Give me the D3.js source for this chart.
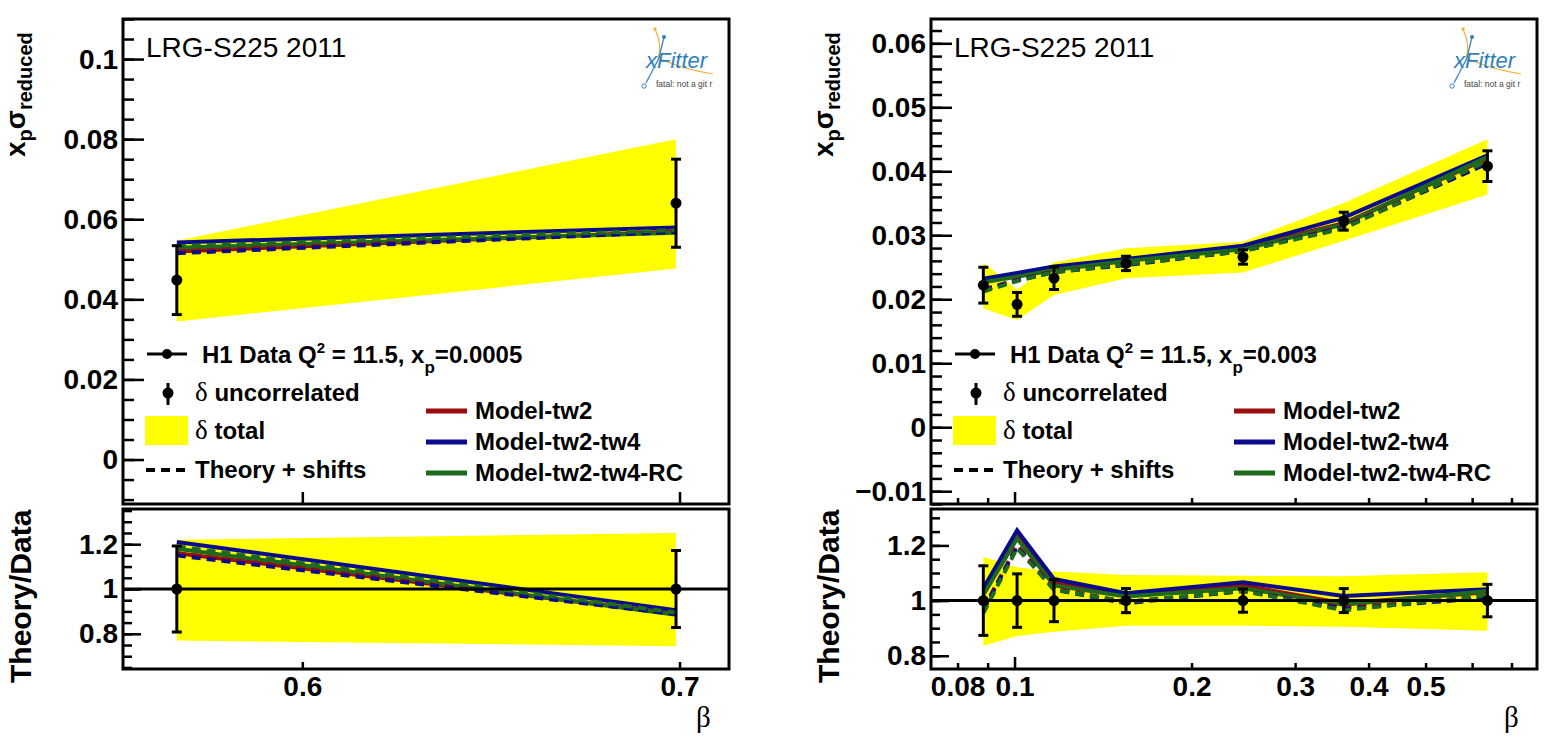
<!DOCTYPE html>
<html>
<head>
<meta charset="utf-8">
<script src="https://cdn.jsdelivr.net/npm/d3@7"></script>
<style>
body { margin: 0; background: #fff; }
svg { display: block; font-family: "Liberation Sans", Arial, sans-serif; }
.axis path.domain { display: none; }
.axis line { stroke: #000; stroke-width: 2.5px; }
.axis text { font-size: 28px; font-weight: bold; fill: #000; font-family: "Liberation Sans", Arial, sans-serif; }
</style>
</head>
<body>
<svg id="fig" width="1550" height="744"></svg>
<script>
// ---- left panel: x_p = 0.0005 ----
var leftBeta = [0.570, 0.699];
var leftData = [0.0448, 0.0640];
var leftUnc = [0.0086, 0.0110];
var leftTotLo = [0.77, 0.745];      // total uncertainty band, as theory/data
var leftTotHi = [1.22, 1.25];
var leftTw2 = [1.16, 0.89];         // theory/data per model
var leftTw4 = [1.21, 0.905];
var leftRC = [1.18, 0.885];
var leftTw2Shift = [1.16, 0.89];    // theory + shifts
var leftTw4Shift = [1.15, 0.888];
var leftRCShift = [1.19, 0.895];
var leftYTicks = [0, 0.02, 0.04, 0.06, 0.08, 0.1];
var leftXTicks = [0.6, 0.7];

// ---- right panel: x_p = 0.003 ----
var rightBeta = [0.0885, 0.101, 0.1167, 0.1547, 0.2446, 0.363, 0.637];
var rightData = [0.0222, 0.0192, 0.0233, 0.0256, 0.0266, 0.0322, 0.0408];
var rightUnc = [0.0028, 0.00186, 0.00178, 0.00112, 0.00112, 0.0014, 0.0024];
var rightTotLo = [0.836, 0.872, 0.887, 0.909, 0.909, 0.905, 0.891];
var rightTotHi = [1.158, 1.121, 1.105, 1.093, 1.09, 1.088, 1.103];
var rightTw2 = [1.03, 1.24, 1.065, 1.02, 1.055, 0.99, 1.03];
var rightTw4 = [1.045, 1.255, 1.078, 1.027, 1.066, 1.017, 1.041];
var rightRC = [1.02, 1.225, 1.055, 1.015, 1.045, 0.985, 1.035];
var rightTw2Shift = [0.97, 1.20, 1.045, 0.995, 1.035, 0.975, 1.012];
var rightTw4Shift = [0.965, 1.195, 1.04, 0.99, 1.035, 0.97, 1.01];
var rightRCShift = [0.955, 1.19, 1.04, 0.995, 1.035, 0.965, 1.02];
var rightYTicks = [-0.01, 0, 0.01, 0.02, 0.03, 0.04, 0.05, 0.06];
var rightXTicks = [0.08, 0.1, 0.2, 0.3, 0.4, 0.5];
var rightXMinor = [0.08, 0.09, 0.2, 0.3, 0.4, 0.5, 0.6, 0.7];

var ratioTicks = [0.8, 1, 1.2];
var modelNames = ['Model-tw2', 'Model-tw2-tw4', 'Model-tw2-tw4-RC'];
var modelColors = ['#9a0d0d', '#0b0b8e', '#1c6b1c'];

var svg = d3.select('#fig');
var frameW = 606;
var topBox = {t: 19, b: 504};
var ratBox = {t: 509, b: 669};
var fmt = d3.format('~g');

function minorTicks(dom, step) {
    var out = [];
    var i0 = Math.ceil(dom[0] / step), i1 = Math.floor(dom[1] / step);
    for (var i = i0; i <= i1; i++) out.push(+(i * step).toFixed(6));
    return out;
}

function drawPanel(p) {
    var g = svg.append('g');
    var x = d3.scaleLog().domain(p.xDomain).range([p.x0, p.x0 + frameW]);
    var yTop = d3.scaleLinear().domain(p.yDomain).range([topBox.b, topBox.t]);
    var yRat = d3.scaleLinear().domain(p.rDomain).range([ratBox.b, ratBox.t]);

    var clipTop = 'clipT' + p.id, clipRat = 'clipR' + p.id;
    var defs = g.append('defs');
    defs.append('clipPath').attr('id', clipTop).append('rect')
        .attr('x', p.x0).attr('y', topBox.t).attr('width', frameW).attr('height', topBox.b - topBox.t);
    defs.append('clipPath').attr('id', clipRat).append('rect')
        .attr('x', p.x0).attr('y', ratBox.t).attr('width', frameW).attr('height', ratBox.b - ratBox.t);

    var models = [
        {solid: p.tw2, shift: p.tw2s, color: modelColors[0]},
        {solid: p.tw4, shift: p.tw4s, color: modelColors[1]},
        {solid: p.rc, shift: p.rcs, color: modelColors[2]}
    ];
    var idx = p.beta.map(function(b, i) { return i; });

    // ---------- upper pad ----------
    var up = g.append('g').attr('clip-path', 'url(#' + clipTop + ')');
    up.append('path').datum(idx)
        .attr('fill', '#ffff00')
        .attr('d', d3.area()
            .x(function(i) { return x(p.beta[i]); })
            .y0(function(i) { return yTop(p.data[i] * p.lo[i]); })
            .y1(function(i) { return yTop(p.data[i] * p.hi[i]); }));
    models.forEach(function(m) {
        up.append('path').datum(idx)
            .attr('fill', 'none').attr('stroke', m.color).attr('stroke-width', 4)
            .attr('d', d3.line()
                .x(function(i) { return x(p.beta[i]); })
                .y(function(i) { return yTop(p.data[i] * m.solid[i]); }));
    });
    models.forEach(function(m) {
        up.append('path').datum(idx)
            .attr('fill', 'none').attr('stroke', m.color).attr('stroke-width', 4)
            .attr('stroke-dasharray', '9,6')
            .attr('d', d3.line()
                .x(function(i) { return x(p.beta[i]); })
                .y(function(i) { return yTop(p.data[i] * m.shift[i]); }));
    });
    drawPoints(up, idx, function(i) { return x(p.beta[i]); },
        function(i) { return yTop(p.data[i]); },
        function(i) { return yTop(p.data[i] + p.unc[i]); },
        function(i) { return yTop(p.data[i] - p.unc[i]); });

    // ---------- ratio pad ----------
    var lo = g.append('g').attr('clip-path', 'url(#' + clipRat + ')');
    lo.append('path').datum(idx)
        .attr('fill', '#ffff00')
        .attr('d', d3.area()
            .x(function(i) { return x(p.beta[i]); })
            .y0(function(i) { return yRat(p.lo[i]); })
            .y1(function(i) { return yRat(p.hi[i]); }));
    models.forEach(function(m) {
        lo.append('path').datum(idx)
            .attr('fill', 'none').attr('stroke', m.color).attr('stroke-width', 4)
            .attr('d', d3.line()
                .x(function(i) { return x(p.beta[i]); })
                .y(function(i) { return yRat(m.solid[i]); }));
    });
    models.forEach(function(m) {
        lo.append('path').datum(idx)
            .attr('fill', 'none').attr('stroke', m.color).attr('stroke-width', 4)
            .attr('stroke-dasharray', '9,6')
            .attr('d', d3.line()
                .x(function(i) { return x(p.beta[i]); })
                .y(function(i) { return yRat(m.shift[i]); }));
    });
    lo.append('line')
        .attr('x1', p.x0).attr('x2', p.x0 + frameW)
        .attr('y1', yRat(1)).attr('y2', yRat(1))
        .attr('stroke', '#000').attr('stroke-width', 3);
    drawPoints(lo, idx, function(i) { return x(p.beta[i]); },
        function(i) { return yRat(1); },
        function(i) { return yRat(1 + p.unc[i] / p.data[i]); },
        function(i) { return yRat(1 - p.unc[i] / p.data[i]); });

    // ---------- axes ----------
    g.append('g').attr('class', 'axis').attr('transform', 'translate(' + p.x0 + ',0)')
        .call(d3.axisLeft(yTop).tickValues(minorTicks(p.yDomain, p.yMinor)).tickSize(-11).tickFormat(''));
    g.append('g').attr('class', 'axis').attr('transform', 'translate(' + p.x0 + ',0)')
        .call(d3.axisLeft(yTop).tickValues(p.yTicks).tickSize(-21).tickPadding(5).tickFormat(fmt));
    g.append('g').attr('class', 'axis').attr('transform', 'translate(' + p.x0 + ',0)')
        .call(d3.axisLeft(yRat).tickValues(minorTicks(p.rDomain, 0.05)).tickSize(-9).tickFormat(''));
    g.append('g').attr('class', 'axis').attr('transform', 'translate(' + p.x0 + ',0)')
        .call(d3.axisLeft(yRat).tickValues(ratioTicks).tickSize(-18).tickPadding(5).tickFormat(fmt));

    // x ticks of upper pad (no labels)
    g.append('g').attr('class', 'axis').attr('transform', 'translate(0,' + topBox.b + ')')
        .call(d3.axisBottom(x).tickValues(p.xMinor).tickSize(-p.topShort).tickFormat(''));
    g.append('g').attr('class', 'axis').attr('transform', 'translate(0,' + topBox.b + ')')
        .call(d3.axisBottom(x).tickValues(p.xMajor).tickSize(-12).tickFormat(''));
    // x ticks of ratio pad
    g.append('g').attr('class', 'axis').attr('transform', 'translate(0,' + ratBox.b + ')')
        .call(d3.axisBottom(x).tickValues(p.xMinor).tickSize(-p.ratShort).tickFormat(''));
    g.append('g').attr('class', 'axis').attr('transform', 'translate(0,' + ratBox.b + ')')
        .call(d3.axisBottom(x).tickValues(p.xMajor).tickSize(-p.ratLong).tickFormat(''));
    g.append('g').attr('class', 'axis').attr('transform', 'translate(0,' + ratBox.b + ')')
        .call(d3.axisBottom(x).tickValues(p.xLabels).tickSize(0).tickPadding(7).tickFormat(fmt));

    // frames
    [topBox, ratBox].forEach(function(b) {
        g.append('rect').attr('x', p.x0).attr('y', b.t)
            .attr('width', frameW).attr('height', b.b - b.t)
            .attr('fill', 'none').attr('stroke', '#000').attr('stroke-width', 3);
    });

    // titles
    var yt = g.append('text').attr('transform', 'translate(' + (p.x0 - 98) + ',157) rotate(-90)')
        .attr('font-weight', 'bold').attr('font-size', 28);
    yt.append('tspan').text('x');
    yt.append('tspan').attr('font-size', 20).attr('dy', 7).text('p');
    yt.append('tspan').attr('dy', -7).text('σ');
    yt.append('tspan').attr('font-size', 20).attr('dy', 7).text('reduced');

    g.append('text').attr('transform', 'translate(' + (p.x0 - 92) + ',683) rotate(-90)')
        .attr('font-weight', 'bold').attr('font-size', 30).text('Theory/Data');

    g.append('text').attr('x', p.x0 + 573).attr('y', 727)
        .attr('font-family', '"Liberation Serif", serif').attr('font-size', 29).text('β');

    g.append('text').attr('x', p.x0 + 23).attr('y', 57)
        .attr('font-size', 28).text('LRG-S225 2011');

    drawLogo(g, p.x0 + 522);
    drawLegend(g, p.x0, p.xpLabel);
}

function drawPoints(sel, idx, fx, fy, fhi, flo) {
    var pts = sel.append('g');
    idx.forEach(function(i) {
        var cx = fx(i);
        pts.append('line').attr('x1', cx).attr('x2', cx).attr('y1', fhi(i)).attr('y2', flo(i))
            .attr('stroke', '#000').attr('stroke-width', 3);
        [fhi(i), flo(i)].forEach(function(yy) {
            pts.append('line').attr('x1', cx - 5).attr('x2', cx + 5).attr('y1', yy).attr('y2', yy)
                .attr('stroke', '#000').attr('stroke-width', 3);
        });
        pts.append('circle').attr('cx', cx).attr('cy', fy(i)).attr('r', 5.5).attr('fill', '#000');
    });
}

function drawLegend(g, x0, xpLabel) {
    var lg = g.append('g').attr('font-weight', 'bold').attr('font-size', 24);
    // data row
    lg.append('line').attr('x1', x0 + 24).attr('x2', x0 + 64).attr('y1', 354).attr('y2', 354)
        .attr('stroke', '#000').attr('stroke-width', 3);
    lg.append('circle').attr('cx', x0 + 44).attr('cy', 354).attr('r', 5).attr('fill', '#000');
    var t1 = lg.append('text').attr('x', x0 + 79).attr('y', 363);
    t1.append('tspan').text('H1 Data Q');
    t1.append('tspan').attr('font-size', 15).attr('dy', -10).text('2');
    t1.append('tspan').attr('dy', 10).text(' = 11.5, x');
    t1.append('tspan').attr('font-size', 17).attr('dy', 10).text('p');
    t1.append('tspan').attr('dy', -10).text('=' + xpLabel);

    // uncorrelated
    lg.append('line').attr('x1', x0 + 45).attr('x2', x0 + 45).attr('y1', 383).attr('y2', 405)
        .attr('stroke', '#000').attr('stroke-width', 3);
    lg.append('circle').attr('cx', x0 + 45).attr('cy', 393).attr('r', 5.5).attr('fill', '#000');
    var t2 = lg.append('text').attr('x', x0 + 72).attr('y', 401);
    t2.append('tspan').attr('font-family', '"Liberation Serif", serif').attr('font-weight', 'normal')
        .attr('font-size', 27).text('δ');
    t2.append('tspan').text(' uncorrelated');

    // total
    lg.append('rect').attr('x', x0 + 22).attr('y', 416).attr('width', 43).attr('height', 29)
        .attr('fill', '#ffff00');
    var t3 = lg.append('text').attr('x', x0 + 72).attr('y', 439);
    t3.append('tspan').attr('font-family', '"Liberation Serif", serif').attr('font-weight', 'normal')
        .attr('font-size', 27).text('δ');
    t3.append('tspan').text(' total');

    // theory + shifts
    lg.append('line').attr('x1', x0 + 23).attr('x2', x0 + 65).attr('y1', 470).attr('y2', 470)
        .attr('stroke', '#000').attr('stroke-width', 4).attr('stroke-dasharray', '9,6');
    lg.append('text').attr('x', x0 + 72).attr('y', 478).text('Theory + shifts');

    // models
    var rowY = [411, 442, 473];
    modelNames.forEach(function(name, k) {
        lg.append('line').attr('x1', x0 + 303).attr('x2', x0 + 344)
            .attr('y1', rowY[k]).attr('y2', rowY[k])
            .attr('stroke', modelColors[k]).attr('stroke-width', 5);
        lg.append('text').attr('x', x0 + 352).attr('y', rowY[k] + 8).text(name);
    });
}

function drawLogo(g, lx) {
    var lg = g.append('g');
    lg.append('path')
        .attr('d', 'M' + (lx + 10) + ',29 C' + (lx + 15) + ',40 ' + (lx + 16) + ',50 ' + (lx + 13) + ',58'
            + ' C' + (lx + 30) + ',66 ' + (lx + 50) + ',71 ' + (lx + 68) + ',74')
        .attr('fill', 'none').attr('stroke', '#f2b33d').attr('stroke-width', 1.2);
    lg.append('circle').attr('cx', lx + 10).attr('cy', 29).attr('r', 1.8).attr('fill', '#f2b33d');
    lg.append('path')
        .attr('d', 'M' + (lx + 19) + ',37 L' + (lx + 14) + ',58 L' + (lx + 1) + ',83')
        .attr('fill', 'none').attr('stroke', '#2f80c0').attr('stroke-width', 1.2);
    lg.append('circle').attr('cx', lx + 19).attr('cy', 37).attr('r', 2).attr('fill', '#2f80c0');
    lg.append('circle').attr('cx', lx - 1).attr('cy', 86).attr('r', 2.2)
        .attr('fill', 'none').attr('stroke', '#2f80c0').attr('stroke-width', 1);
    lg.append('text').attr('x', lx + 1).attr('y', 68)
        .attr('font-style', 'italic').attr('font-size', 22).attr('fill', '#2f80c0').text('xFitter');
    lg.append('text').attr('x', lx + 11).attr('y', 87)
        .attr('font-size', 8.5).attr('fill', '#444').text('fatal: not a git r');
}

drawPanel({
    id: 'L', x0: 123, xpLabel: '0.0005',
    beta: leftBeta, data: leftData, unc: leftUnc, lo: leftTotLo, hi: leftTotHi,
    tw2: leftTw2, tw4: leftTw4, rc: leftRC, tw2s: leftTw2Shift, tw4s: leftTw4Shift, rcs: leftRCShift,
    xDomain: [0.5576, 0.7143], yDomain: [-0.0111, 0.110], rDomain: [0.643, 1.357],
    yTicks: leftYTicks, yMinor: 0.005,
    xLabels: leftXTicks, xMajor: leftXTicks, xMinor: [], topShort: 6, ratShort: 6, ratLong: 7
});

drawPanel({
    id: 'R', x0: 931, xpLabel: '0.003',
    beta: rightBeta, data: rightData, unc: rightUnc, lo: rightTotLo, hi: rightTotHi,
    tw2: rightTw2, tw4: rightTw4, rc: rightRC, tw2s: rightTw2Shift, tw4s: rightTw4Shift, rcs: rightRCShift,
    xDomain: [0.0721, 0.7735], yDomain: [-0.0120, 0.0638], rDomain: [0.752, 1.332],
    yTicks: rightYTicks, yMinor: 0.002,
    xLabels: rightXTicks, xMajor: [0.1], xMinor: rightXMinor, topShort: 6, ratShort: 6, ratLong: 12
});
</script>
</body>
</html>
